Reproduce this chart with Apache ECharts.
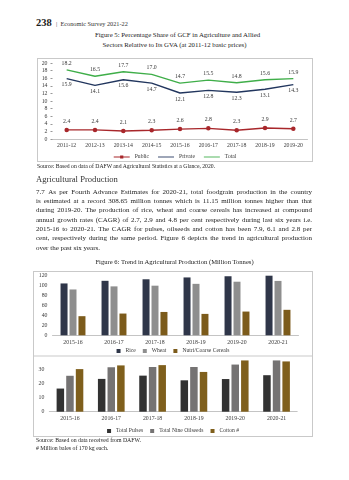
<!DOCTYPE html>
<html>
<head>
<meta charset="utf-8">
<script src="https://cdn.jsdelivr.net/npm/echarts@6/dist/echarts.min.js"></script>
<style>
  html, body { margin: 0; padding: 0; background: #fff; }
  #page { position: relative; width: 349px; height: 480px; overflow: hidden;
          font-family: "Liberation Serif", "DejaVu Serif", serif; color: #1c1c1c; }
  .abs { position: absolute; white-space: nowrap; }
  .frame { position: absolute; border: 1px solid #c9c9c9; box-sizing: border-box; pointer-events: none; }
  .j { position: absolute; left: 36px; width: 276px; font-size: 7px; line-height: 9.33px;
       text-align: justify; text-align-last: justify; white-space: nowrap; }
  .j.last { text-align-last: left; }
  .ctr { position: absolute; left: 0; width: 349px; text-align: center; white-space: nowrap; }
</style>
</head>
<body>
<div id="page">
  <div class="abs" style="left:36px;top:17px;font-size:10.5px;font-weight:bold;">238</div>
  <div class="abs" style="left:56px;top:20px;font-size:6.3px;color:#333;">|&nbsp; Economic Survey 2021-22</div>

  <div class="ctr" style="top:31px;font-size:6.8px;padding-left:3px;">Figure 5: Percentage Share of GCF in Agriculture and Allied</div>
  <div class="ctr" style="top:41px;font-size:6.8px;">Sectors Relative to Its GVA (at 2011-12 basic prices)</div>

  <div id="fig5" style="position:absolute;left:37px;top:58px;width:276px;height:104px;"></div>
  <div class="frame" style="left:37px;top:58px;width:276px;height:104px;"></div>

  <div class="abs" style="left:37px;top:163px;font-size:5.7px;">Source: Based on data of DAFW and Agricultural Statistics at a Glance, 2020.</div>

  <div class="abs" style="left:36px;top:173.5px;font-size:8.6px;color:#333;">Agricultural Production</div>

  <div class="j" style="top:187.6px;"><span style="display:inline-block;width:12.3px;text-align:left;">7.7</span>As per Fourth Advance Estimates for 2020-21, total foodgrain production in the country</div>
  <div class="j" style="top:196.9px;">is estimated at a record 308.65 million tonnes which is 11.15 million tonnes higher than that</div>
  <div class="j" style="top:206.3px;">during 2019-20. The production of rice, wheat and coarse cereals has increased at compound</div>
  <div class="j" style="top:215.6px;">annual growth rates (CAGR) of 2.7, 2.9 and 4.8 per cent respectively during last six years i.e.</div>
  <div class="j" style="top:224.9px;">2015-16 to 2020-21. The CAGR for pulses, oilseeds and cotton has been 7.9, 6.1 and 2.8 per</div>
  <div class="j" style="top:234.3px;">cent, respectively during the same period. Figure 6 depicts the trend in agricultural production</div>
  <div class="j last" style="top:243.6px;">over the past six years.</div>

  <div class="ctr" style="top:258px;font-size:6.6px;">Figure 6: Trend in Agricultural Production (Million Tonnes)</div>

  <div id="fig6" style="position:absolute;left:33px;top:271px;width:280px;height:166px;"></div>
  <div class="frame" style="left:33px;top:271px;width:280px;height:166px;"></div>

  <div class="abs" style="left:36px;top:436.5px;font-size:5.8px;">Source: Based on data received from DAFW.</div>
  <div class="abs" style="left:36px;top:444.5px;font-size:5.8px;"># Million bales of 170 kg each.</div>
</div>

<script>
// Figure 5: GCF share relative to GVA (per cent)
const gcfYears = ['2011-12', '2012-13', '2013-14', '2014-15', '2015-16', '2016-17', '2017-18', '2018-19', '2019-20'];
const gcfPublic = [2.4, 2.4, 2.1, 2.3, 2.6, 2.8, 2.3, 2.9, 2.7];
const gcfPrivate = [15.9, 14.1, 15.6, 14.7, 12.1, 12.8, 12.3, 13.1, 14.3];
const gcfTotal = [18.2, 16.5, 17.7, 17.0, 14.7, 15.5, 14.8, 15.6, 15.9];
const gcfTicks = { min: 0, max: 20, interval: 2 };

// Figure 6: production (million tonnes / million bales)
const prodYears = ['2015-16', '2016-17', '2017-18', '2018-19', '2019-20', '2020-21'];
const rice = [104.4, 109.7, 112.8, 116.5, 118.9, 122.3];
const wheat = [92.3, 98.5, 99.9, 103.6, 107.9, 109.5];
const coarseCereals = [38.5, 43.8, 47.0, 43.1, 47.8, 51.3];
const pulses = [16.3, 23.1, 25.4, 22.1, 23.0, 25.7];
const oilseeds = [25.3, 31.3, 31.5, 31.5, 33.2, 36.1];
const cotton = [30.0, 32.6, 32.8, 28.0, 36.1, 35.4];
const cerealTicks = { min: 0, max: 120, interval: 20 };
const otherTicks = { min: 0, max: 40, interval: 10 };

const serif = '"Liberation Serif", "DejaVu Serif", serif';
const txt = '#3a3a3a';
const axisGray = '#c4c4c4';

const lineIcon = 'path://M0,2.5H20V3.6H0Z';
const markIcon = 'path://M0,2.5H20V3.6H0Z M8,1H12V5H8Z';

function lineSeries(name, data, color, labelPos, withMarker) {
  return {
    name, type: 'line', data,
    symbol: 'circle', symbolSize: withMarker ? 4.5 : 0, showSymbol: true,
    itemStyle: { color },
    lineStyle: { color, width: 1.4 },
    label: {
      show: true, position: labelPos, distance: labelPos === 'top' ? 3.5 : 3,
      fontSize: 5.8, fontFamily: serif, color: txt,
      formatter: p => p.value.toFixed(1)
    },
    emphasis: { disabled: true },
    animation: false
  };
}

const fig5 = echarts.init(document.getElementById('fig5'), null, { renderer: 'canvas' });
fig5.setOption({
  animation: false,
  grid: { left: 15.5, right: 5.5, top: 5, height: 76 },
  legend: {
    bottom: 2, left: 'center', padding: 0, itemWidth: 16, itemHeight: 5, itemGap: 9,
    textStyle: { fontSize: 5.6, fontFamily: serif, color: txt },
    data: [
      { name: 'Public', icon: markIcon },
      { name: 'Private', icon: lineIcon },
      { name: 'Total', icon: lineIcon }
    ]
  },
  xAxis: {
    type: 'category', data: gcfYears, boundaryGap: true,
    axisLine: { lineStyle: { color: axisGray } },
    axisTick: { show: false },
    axisLabel: { fontSize: 5.8, fontFamily: serif, color: txt, margin: 3 }
  },
  yAxis: {
    type: 'value', min: gcfTicks.min, max: gcfTicks.max, interval: gcfTicks.interval,
    splitLine: { show: false },
    axisLine: { show: false },
    axisTick: { show: true, length: 2, lineStyle: { color: '#999' } },
    axisLabel: { fontSize: 5.8, fontFamily: serif, color: txt, margin: 5 }
  },
  series: [
    lineSeries('Public', gcfPublic, '#a8272b', 'top', true),
    lineSeries('Private', gcfPrivate, '#22365e', 'bottom', false),
    lineSeries('Total', gcfTotal, '#3fae49', 'top', false)
  ]
});

function barSeries(name, data, color, xIdx, width) {
  return {
    name, type: 'bar', data, xAxisIndex: xIdx, yAxisIndex: xIdx,
    barWidth: width, barGap: '28%',
    itemStyle: { color },
    emphasis: { disabled: true },
    animation: false
  };
}

function catAxis(idx, margin) {
  return {
    type: 'category', gridIndex: idx, data: prodYears,
    axisLine: { lineStyle: { color: axisGray } },
    axisTick: { show: false },
    axisLabel: { fontSize: 5.8, fontFamily: serif, color: txt, margin }
  };
}

function valAxis(idx, t, showMax) {
  return {
    type: 'value', gridIndex: idx, min: t.min, max: t.max, interval: t.interval,
    splitLine: { show: false }, axisLine: { show: false }, axisTick: { show: false },
    axisLabel: { fontSize: 5.8, fontFamily: serif, color: txt, margin: 5, showMaxLabel: showMax }
  };
}

const legendText = { fontSize: 5.6, fontFamily: serif, color: txt };

const fig6 = echarts.init(document.getElementById('fig6'), null, { renderer: 'canvas' });
fig6.setOption({
  animation: false,
  grid: [
    { left: 19.5, right: 14.5, top: 4.7, height: 59.6 },
    { left: 16.3, right: 15.8, top: 83.9, height: 56.8 }
  ],
  legend: [
    { top: 77, left: 'center', padding: 0, itemWidth: 4, itemHeight: 4, itemGap: 7, icon: 'rect',
      textStyle: legendText, data: ['Rice', 'Wheat', 'Nutri/Coarse Cereals'] },
    { top: 157, left: 'center', padding: 0, itemWidth: 4, itemHeight: 4, itemGap: 7, icon: 'rect',
      textStyle: legendText, data: ['Total Pulses', 'Total Nine Oilseeds', 'Cotton #'] }
  ],
  graphic: [{
    type: 'line', shape: { x1: 0, y1: 85, x2: 280, y2: 85 },
    style: { stroke: '#c9c9c9', lineWidth: 1 }, silent: true
  }],
  xAxis: [catAxis(0, 4), catAxis(1, 4)],
  yAxis: [valAxis(0, cerealTicks, true), valAxis(1, otherTicks, false)],
  series: [
    barSeries('Rice', rice, '#2f3649', 0, 7),
    barSeries('Wheat', wheat, '#8e8e8e', 0, 7),
    barSeries('Nutri/Coarse Cereals', coarseCereals, '#7c5b1b', 0, 7),
    barSeries('Total Pulses', pulses, '#323232', 1, 7.5),
    barSeries('Total Nine Oilseeds', oilseeds, '#757373', 1, 7.5),
    barSeries('Cotton #', cotton, '#7f5f1c', 1, 7.5)
  ]
});
</script>
</body>
</html>
